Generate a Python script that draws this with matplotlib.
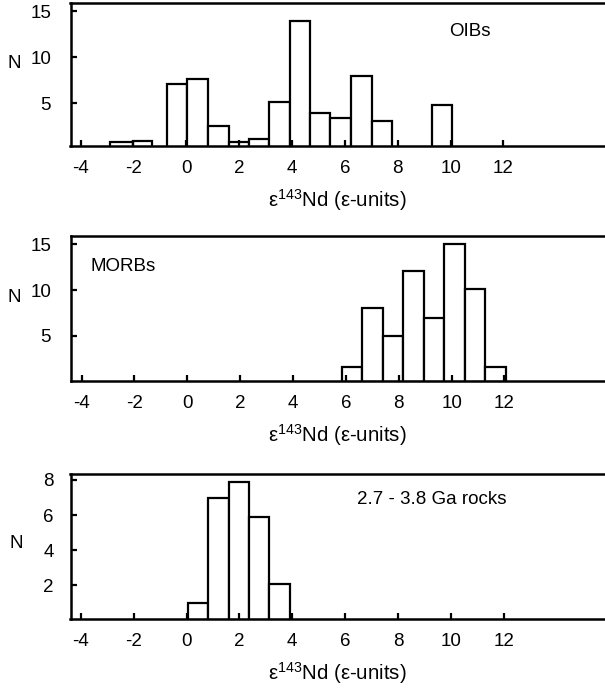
import matplotlib
matplotlib.use("Agg")
import matplotlib.pyplot as plt
import numpy as np

plt.rcParams['font.family'] = ['Liberation Sans', 'DejaVu Sans']
plt.rcParams['mathtext.fontset'] = 'custom'
plt.rcParams['mathtext.rm'] = 'Liberation Sans'
plt.rcParams['mathtext.it'] = 'Liberation Sans'

# ---- data (bin edges in epsilon units, counts N) ----
oib_left = [-2.87, -2.03, -0.72, 0.03, 0.84, 1.62, 2.38, 3.13, 3.91, 4.69, 5.45, 6.23, 7.01, 9.28]
oib_right = [-2.03, -1.28, 0.03, 0.84, 1.62, 2.38, 3.13, 3.91, 4.69, 5.45, 6.23, 7.01, 7.79, 10.06]
oib_n = [0.85, 0.9, 7.1, 7.6, 2.5, 0.8, 1.1, 5.1, 13.9, 3.95, 3.4, 7.95, 3.1, 4.8]

morb_left = [5.86, 6.62, 7.40, 8.16, 8.94, 9.73, 10.51, 11.27]
morb_right = [6.62, 7.40, 8.16, 8.94, 9.73, 10.51, 11.27, 12.04]
morb_n = [1.6, 8.1, 5.0, 12.1, 7.0, 15.0, 10.1, 1.6]

arch_left = [0.04, 0.81, 1.59, 2.38, 3.13]
arch_right = [0.81, 1.59, 2.38, 3.13, 3.92]
arch_n = [1.0, 7.0, 7.9, 5.9, 2.05]

xticks = [-4, -2, 0, 2, 4, 6, 8, 10, 12]
xticklabels = ['-4', '-2', '0', '2', '4', '6', '8', '10', '12']
yticks_12 = [5, 10, 15]
yticks_3 = [2, 4, 6, 8]

W, H = 605, 695
fig = plt.figure(figsize=(W / 100, H / 100), dpi=100)

TICK_FS = 13.5
TEXT_FS = 13.5
LABEL_FS = 14.7

def make_ax(top_px, bot_px, xlo, ylim):
    left_px = 70.5
    right_px = 605
    ax = fig.add_axes([left_px / W, 1 - bot_px / H, (right_px - left_px) / W, (bot_px - top_px) / H])
    ppu = 26.43
    ax.set_xlim(xlo, xlo + (right_px - left_px) / ppu)
    ax.set_ylim(*ylim)
    for s in ['left', 'bottom', 'top']:
        ax.spines[s].set_linewidth(1.8)
    ax.spines['right'].set_visible(False)
    ax.tick_params(direction='in', length=4, width=1.6, labelsize=TICK_FS)
    ax.tick_params(axis='x', pad=10)
    ax.tick_params(axis='y', pad=14)
    ax.set_xticks(xticks)
    ax.set_xticklabels(xticklabels)
    ax.set_xlabel(r'ε$^{\mathregular{143}}$Nd (ε-units)', fontsize=LABEL_FS, labelpad=7)
    return ax

def draw_bars(ax, lefts, rights, ns):
    lefts = np.array(lefts); rights = np.array(rights)
    ax.bar(lefts, ns, width=rights - lefts, align='edge', bottom=0,
           facecolor='white', edgecolor='black', linewidth=1.6, zorder=1)

ax1 = make_ax(3, 146, -4.38, (0.37, 15.87))
draw_bars(ax1, oib_left, oib_right, oib_n)
ax1.set_yticks(yticks_12)
ax1.text(0.747, 0.80, 'OIBs', transform=ax1.transAxes, ha='center', va='center', fontsize=TEXT_FS)

ax2 = make_ax(236, 381, -4.42, (0.09, 15.9))
draw_bars(ax2, morb_left, morb_right, morb_n)
ax2.set_yticks(yticks_12)
ax2.text(0.038, 0.793, 'MORBs', transform=ax2.transAxes, ha='left', va='center', fontsize=TEXT_FS)

ax3 = make_ax(474, 619, -4.39, (0.08, 8.34))
draw_bars(ax3, arch_left, arch_right, arch_n)
ax3.set_yticks(yticks_3)
ax3.tick_params(axis='y', pad=12)
ax3.text(0.536, 0.821, '2.7 - 3.8 Ga rocks', transform=ax3.transAxes, ha='left', va='center', fontsize=TEXT_FS)

fig.text(14 / W, 1 - 64 / H, 'N', ha='center', va='center', fontsize=TEXT_FS)
fig.text(14 / W, 1 - 298 / H, 'N', ha='center', va='center', fontsize=TEXT_FS)
fig.text(16 / W, 1 - 543 / H, 'N', ha='center', va='center', fontsize=TEXT_FS)

fig.savefig('out.png', dpi=100)
